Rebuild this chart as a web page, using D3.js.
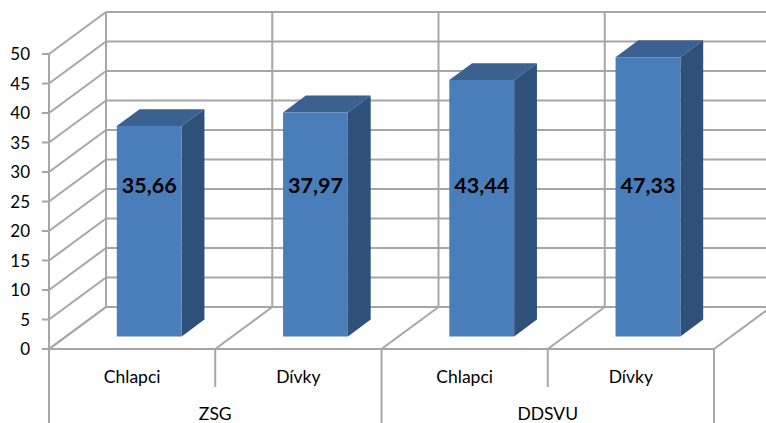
<!DOCTYPE html>
<html>
<head>
<meta charset="utf-8">
<script src="https://cdn.jsdelivr.net/npm/d3@7"></script>
<style>
  html, body { margin: 0; padding: 0; background: #fff; }
  svg { display: block; }
  text { font-family: Lato, "Open Sans", sans-serif; fill: #000; }
</style>
</head>
<body>
<svg id="chart" width="766" height="423"></svg>
<script>
// Data
const groups = ["ZSG", "DDSVU"];
const categories = ["Chlapci", "Dívky", "Chlapci", "Dívky"];
const categoryGroup = ["ZSG", "ZSG", "DDSVU", "DDSVU"];
const values = [35.66, 37.97, 43.44, 47.33];
const valueLabels = ["35,66", "37,97", "43,44", "47,33"];
const yTicks = [0, 5, 10, 15, 20, 25, 30, 35, 40, 45, 50];

const W = 766, H = 423;
const svg = d3.select("#chart");

// Front plane geometry and depth offset of the 3D box
const x0 = 49, x1 = 714;
const depthDX = 57, depthDY = -42;

const x = d3.scaleBand().domain(d3.range(categories.length)).range([x0, x1]).paddingInner(0).paddingOuter(0);
const y = d3.scaleLinear().domain([0, 50]).range([349, 54]);
// depth fraction 0 = front, 1 = back wall
const z = d3.scaleLinear().domain([0, 1]).range([0, 1]);

function P(px, v, d) {
  const f = z(d);
  return [px + depthDX * f, y(v) + depthDY * f];
}
const line = d3.line();

const gridColor = "#a6a6a6";
const grid = svg.append("g").attr("fill", "none").attr("stroke", gridColor).attr("stroke-width", 2);

// Back wall: horizontal gridlines
yTicks.forEach(t => {
  grid.append("path").attr("d", line([P(x0, t, 1), P(x1, t, 1)]));
});
// Back wall: vertical lines at category boundaries
const bounds = d3.range(categories.length + 1).map(i => i < categories.length ? x(i) : x1);
bounds.forEach(bx => {
  grid.append("path").attr("d", line([P(bx, 0, 1), P(bx, 50, 1)]));
});
// Left wall: diagonal gridlines
yTicks.forEach(t => {
  grid.append("path").attr("d", line([P(x0, t, 0), P(x0, t, 1)]));
});
// Floor: diagonal lines at category boundaries
bounds.forEach(bx => {
  grid.append("path").attr("d", line([P(bx, 0, 0), P(bx, 0, 1)]));
});
// Front floor edge and value axis
grid.append("path").attr("d", line([P(x0, 0, 0), P(x1, 0, 0)]));
grid.append("path").attr("d", line([P(x0, 0, 0), P(x0, 50, 0)]));
// Value axis ticks
yTicks.forEach(t => {
  grid.append("path").attr("d", line([[x0 - 7, y(t)], [x0, y(t)]]));
});

// Category axis: boundary lines below the floor
bounds.forEach((bx, i) => {
  const isGroupEdge = (i === 0 || i === bounds.length - 1 || categoryGroup[i] !== categoryGroup[i - 1]);
  grid.append("path").attr("d", line([[bx, y(0)], [bx, isGroupEdge ? H : 387]]));
});

// Value axis labels
svg.append("g").selectAll("text").data(yTicks).join("text")
  .attr("x", 30).attr("y", d => y(d)).attr("dy", "0.36em")
  .attr("text-anchor", "end").attr("font-size", 17)
  .text(d => d);

// Category labels
svg.append("g").selectAll("text").data(categories).join("text")
  .attr("x", (d, i) => x(i) + x.bandwidth() / 2).attr("y", 383)
  .attr("text-anchor", "middle").attr("font-size", 17.5)
  .text(d => d);

// Group labels
svg.append("g").selectAll("text").data(groups).join("text")
  .attr("x", g => {
    const idx = categoryGroup.map((c, i) => c === g ? i : -1).filter(i => i >= 0);
    return (x(idx[0]) + x(idx[idx.length - 1]) + x.bandwidth()) / 2;
  })
  .attr("y", 420)
  .attr("text-anchor", "middle").attr("font-size", 17.5)
  .text(d => d);

// Bars as 3D boxes
const barW = x.bandwidth() * 0.39;
const dFront = 0.3, dBack = 0.7;
const colFront = "#4a7ebb", colTop = "#3a6190", colSide = "#2f5078";

const bars = svg.append("g");
values.forEach((v, i) => {
  const cx = x(i) + x.bandwidth() / 2;
  const L = cx - barW / 2, R = cx + barW / 2;
  const g = bars.append("g");
  // side face
  g.append("path").attr("fill", colSide)
    .attr("d", line([P(R, 0, dFront), P(R, 0, dBack), P(R, v, dBack), P(R, v, dFront)]) + "Z");
  // top face
  g.append("path").attr("fill", colTop)
    .attr("d", line([P(L, v, dFront), P(R, v, dFront), P(R, v, dBack), P(L, v, dBack)]) + "Z");
  // front face
  g.append("path").attr("fill", colFront)
    .attr("d", line([P(L, 0, dFront), P(R, 0, dFront), P(R, v, dFront), P(L, v, dFront)]) + "Z");
});

// Value labels
svg.append("g").selectAll("text").data(values).join("text")
  .attr("x", (d, i) => P(x(i) + x.bandwidth() / 2, 0, dFront)[0])
  .attr("y", 185).attr("dy", "0.36em")
  .attr("text-anchor", "middle").attr("font-size", 21.5).attr("font-weight", "bold")
  .text((d, i) => valueLabels[i]);
</script>
</body>
</html>
